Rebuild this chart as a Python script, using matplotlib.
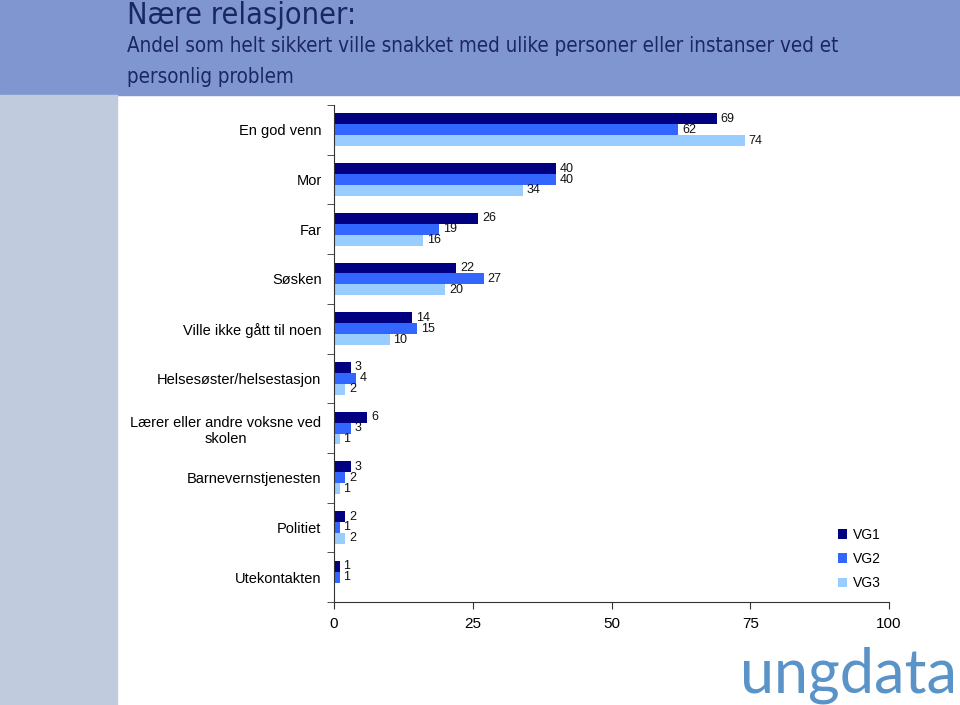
import numpy as np
import matplotlib.pyplot as plt
from matplotlib.patches import Rectangle

categories = ['En god venn', 'Mor', 'Far', 'Søsken', 'Ville ikke gått til noen',
              'Helsesøster/helsestasjon', 'Lærer eller andre voksne ved\nskolen',
              'Barnevernstjenesten', 'Politiet', 'Utekontakten']
vg1 = [69, 40, 26, 22, 14, 3, 6, 3, 2, 1]
vg2 = [62, 40, 19, 27, 15, 4, 3, 2, 1, 1]
vg3 = [74, 34, 16, 20, 10, 2, 1, 1, 2, None]
series_names = ['VG1', 'VG2', 'VG3']
colors = ['#000080', '#3366FF', '#99CCFF']
xticks = [0, 25, 50, 75, 100]

plt.rcParams['font.family'] = ['Liberation Sans', 'DejaVu Sans']

fig = plt.figure(figsize=(9.6, 7.05), dpi=100)

# header band and left side strip
fig.patches.append(Rectangle((0, 1 - 95 / 705), 1, 95 / 705, transform=fig.transFigure,
                             color='#8096D0', zorder=0))
fig.patches.append(Rectangle((0, 0), 117 / 960, 1 - 95 / 705, transform=fig.transFigure,
                             color='#C0CCDE', zorder=0))

head_font = ['DejaVu Sans', 'Liberation Sans']
fig.text(127 / 960, 1 - 16 / 705, 'Nære relasjoner:', fontsize=22, color='#1B2760',
         va='center', ha='left', family=head_font, fontstretch='condensed')
fig.text(127 / 960, 1 - 46 / 705, 'Andel som helt sikkert ville snakket med ulike personer eller instanser ved et',
         fontsize=14.8, color='#1B2760', va='center', ha='left', family=head_font, fontstretch='condensed')
fig.text(127 / 960, 1 - 77 / 705, 'personlig problem',
         fontsize=14.8, color='#1B2760', va='center', ha='left', family=head_font, fontstretch='condensed')

ax = fig.add_axes([334 / 960, 1 - 602 / 705, 555 / 960, 497 / 705])

n = len(categories)
y = np.arange(n)
h = 0.22
for i, vals in enumerate([vg1, vg2, vg3]):
    pos = y + (i - 1) * h
    v = np.array([0 if x is None else x for x in vals], dtype=float)
    ax.barh(pos, v, height=h, color=colors[i], label=series_names[i])
    for p, val in zip(pos, vals):
        if val is None:
            continue
        ax.text(val + 0.7, p, str(val), va='center', ha='left', fontsize=9, color='#111111')

ax.set_xlim(0, 100)
ax.set_ylim(n - 0.5, -0.5)
ax.set_xticks(xticks)
ax.set_xticklabels([str(t) for t in xticks], fontsize=11)
ax.set_yticks(y)
ax.set_yticklabels(categories, fontsize=10.5, multialignment='center')
ax.tick_params(axis='y', length=0, pad=9)
ax.tick_params(axis='x', length=5, direction='out', pad=6, color='#333333')
ax.set_yticks(np.arange(n + 1) - 0.5, minor=True)
ax.tick_params(axis='y', which='minor', length=5, direction='out', color='#333333')
for s in ['top', 'right']:
    ax.spines[s].set_visible(False)
ax.spines['left'].set_color('#333333')
ax.spines['bottom'].set_color('#333333')

ax.legend(loc='lower left', bbox_to_anchor=(832 / 960, 1 - 596 / 705), bbox_transform=fig.transFigure,
          frameon=False, fontsize=10, handlelength=0.7, handleheight=0.7,
          handletextpad=0.4, labelspacing=0.75, borderaxespad=0)

fig.text(0.997, 1 - 692 / 705, 'ungdata', fontsize=44, color='#5A93C8', ha='right', va='baseline',
         family=['Lato', 'DejaVu Sans'])

fig.savefig('out.png', dpi=100)
